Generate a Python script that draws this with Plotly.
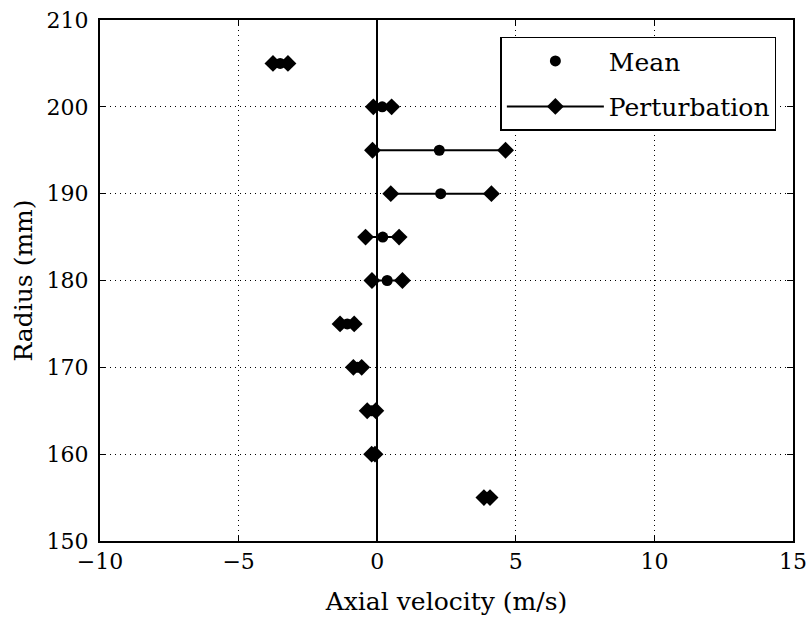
import plotly.graph_objects as go

radius = [205, 200, 195, 190, 185, 180, 175, 170, 165, 160, 155]
mean_vel = [-3.5, 0.18, 2.24, 2.29, 0.2, 0.36, -1.08, -0.71, -0.2, -0.14, 3.96]
pert_min = [-3.76, -0.14, -0.17, 0.49, -0.42, -0.19, -1.34, -0.86, -0.36, -0.2, 3.85]
pert_max = [-3.22, 0.52, 4.63, 4.12, 0.79, 0.91, -0.83, -0.56, -0.05, -0.08, 4.07]

x_ticks = [-10, -5, 0, 5, 10, 15]
x_tick_text = ["\u221210", "\u22125", "0", "5", "10", "15"]
y_ticks = [150, 160, 170, 180, 190, 200, 210]

px, py = [], []
for r, a, b in zip(radius, pert_min, pert_max):
    px += [a, b, None]
    py += [r, r, None]

font_family = "DejaVu Serif"
tick_fs = 22
title_fs = 25

fig = go.Figure()
fig.add_trace(go.Scatter(
    x=mean_vel, y=radius, mode="markers", name="Mean", legendgroup="a",
    marker=dict(symbol="circle", size=11, color="black"),
))
fig.add_trace(go.Scatter(
    x=px, y=py, mode="lines+markers", name="Perturbation", legendgroup="b",
    line=dict(color="black", width=2),
    marker=dict(symbol="diamond", size=13, color="black"),
))

axis_common = dict(
    showline=True, linecolor="black", linewidth=2, mirror="ticks",
    ticks="inside", ticklen=6, tickcolor="black", tickwidth=1,
    showgrid=True, gridcolor="black", gridwidth=1, griddash="1px,4px",
    tickfont=dict(size=tick_fs, color="black", family=font_family),
    automargin=False,
)

fig.update_xaxes(
    range=[-10, 15], tickvals=x_ticks, ticktext=x_tick_text,
    zeroline=True, zerolinecolor="black", zerolinewidth=1.5,
    title=dict(text="Axial velocity (m/s)", font=dict(size=title_fs, color="black", family=font_family), standoff=19),
    **axis_common,
)
fig.update_yaxes(
    range=[150, 210], tickvals=y_ticks, zeroline=False, ticklabelstandoff=5,
    title=dict(text="Radius (mm)", font=dict(size=title_fs, color="black", family=font_family), standoff=7),
    **axis_common,
)

fig.update_layout(
    width=807, height=626,
    margin=dict(l=100, r=14, t=20, b=85),
    plot_bgcolor="white", paper_bgcolor="white",
    font=dict(family=font_family, color="black", size=title_fs),
    legend=dict(
        x=0.976, y=0.968, xanchor="right", yanchor="top",
        bgcolor="white", bordercolor="black", borderwidth=1.5,
        font=dict(size=title_fs, family=font_family), itemwidth=97,
        tracegroupgap=10,
    ),
    showlegend=True,
)

fig.write_html("out.html")
